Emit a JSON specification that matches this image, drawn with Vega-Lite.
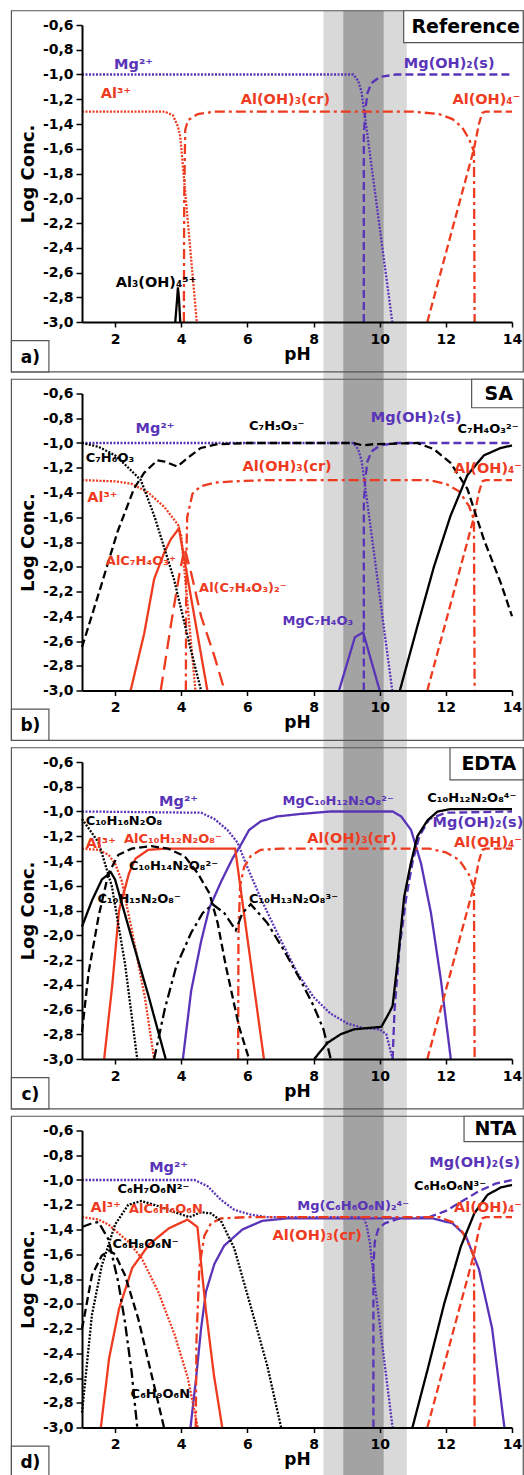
{
"$schema":"https://vega.github.io/schema/vega-lite/v6.json",
"background":"white",
"padding":{"left":10,"top":10,"right":0,"bottom":0},
"bounds":"flush",
"spacing":71.5,
"config":{
 "view":{"stroke":null},
 "axis":{"grid":false,"domainColor":"#000","domainWidth":2,"tickColor":"#000","tickWidth":1.5,"labelFont":"DejaVu Sans","labelFontWeight":"bold","labelFontSize":14,"labelColor":"#000","titleFont":"DejaVu Sans","titleFontWeight":"bold","titleColor":"#000","labelFlush":false},
 "axisX":{"titleFontSize":17},
 "axisY":{"titleFontSize":18},
 "text":{"font":"DejaVu Sans","fontWeight":"bold"}
},
"datasets":{
"bands":[{"b":"outer","x1":8.3,"x2":10.82,"y1":-0.485,"y2":-3.47},{"b":"inner","x1":8.9,"x2":10.12,"y1":-0.485,"y2":-3.47}],
"frame":[{"x1":-1.134,"x2":14.34,"y1":-0.485,"y2":-3.403}],
"tags":[
{"p":"a","t":"Reference","x1":10.725,"x2":14.34,"y1":-0.485,"y2":-0.743,"tx":12.6,"ty":-0.614},
{"p":"b","t":"SA","x1":12.78,"x2":14.34,"y1":-0.485,"y2":-0.715,"tx":13.6,"ty":-0.6},
{"p":"c","t":"EDTA","x1":12.125,"x2":14.34,"y1":-0.485,"y2":-0.745,"tx":13.3,"ty":-0.615},
{"p":"d","t":"NTA","x1":12.55,"x2":14.34,"y1":-0.485,"y2":-0.69,"tx":13.5,"ty":-0.588}],
"corners":[
{"p":"a","t":"a)","x1":-1.134,"x2":0.0,"y1":-3.151,"y2":-3.403,"tx":-0.56,"ty":-3.29},
{"p":"b","t":"b)","x1":-1.134,"x2":0.0,"y1":-3.151,"y2":-3.403,"tx":-0.56,"ty":-3.29},
{"p":"c","t":"c)","x1":-1.134,"x2":0.0,"y1":-3.151,"y2":-3.403,"tx":-0.56,"ty":-3.29},
{"p":"d","t":"d)","x1":-1.134,"x2":0.0,"y1":-3.151,"y2":-3.403,"tx":-0.56,"ty":-3.29}],
"labels":[
{"p":"a","s":"Mg2+","t":"Mg²⁺","x":1.97,"y":-0.958},
{"p":"a","s":"MgOH2","t":"Mg(OH)₂(s)","x":10.73,"y":-0.95},
{"p":"a","s":"Al3+","t":"Al³⁺","x":1.57,"y":-1.19},
{"p":"a","s":"AlOH3","t":"Al(OH)₃(cr)","x":5.8,"y":-1.24},
{"p":"a","s":"AlOH4","t":"Al(OH)₄⁻","x":12.2,"y":-1.24},
{"p":"a","s":"Al3OH4","t":"Al₃(OH)₄⁵⁺","x":2.02,"y":-2.72},
{"p":"b","s":"Mg2+","t":"Mg²⁺","x":2.62,"y":-0.92},
{"p":"b","s":"SA1","t":"C₇H₅O₃⁻","x":6.05,"y":-0.895},
{"p":"b","s":"MgOH2","t":"Mg(OH)₂(s)","x":9.73,"y":-0.83},
{"p":"b","s":"SA2","t":"C₇H₄O₃²⁻","x":12.35,"y":-0.92},
{"p":"b","s":"SA0","t":"C₇H₆O₃","x":1.11,"y":-1.15},
{"p":"b","s":"AlOH3","t":"Al(OH)₃(cr)","x":5.85,"y":-1.23},
{"p":"b","s":"AlOH4","t":"Al(OH)₄⁻","x":12.25,"y":-1.245},
{"p":"b","s":"Al3+","t":"Al³⁺","x":1.16,"y":-1.475},
{"p":"b","s":"AlSA","t":"AlC₇H₄O₃⁺","x":1.72,"y":-1.986},
{"p":"b","s":"AlSA2","t":"Al(C₇H₄O₃)₂⁻","x":4.54,"y":-2.2},
{"p":"b","s":"MgSA","t":"MgC₇H₄O₃","x":7.06,"y":-2.47},
{"p":"c","s":"Mg2+","t":"Mg²⁺","x":3.33,"y":-0.956},
{"p":"c","s":"MgE","t":"MgC₁₀H₁₂N₂O₈²⁻","x":7.06,"y":-0.947},
{"p":"c","s":"E4","t":"C₁₀H₁₂N₂O₈⁴⁻","x":11.44,"y":-0.921},
{"p":"c","s":"MgOH2","t":"Mg(OH)₂(s)","x":11.6,"y":-1.123},
{"p":"c","s":"E0","t":"C₁₀H₁₆N₂O₈","x":1.11,"y":-1.109},
{"p":"c","s":"Al3+","t":"Al³⁺","x":1.11,"y":-1.297},
{"p":"c","s":"AlE","t":"AlC₁₀H₁₂N₂O₈⁻","x":2.27,"y":-1.257},
{"p":"c","s":"AlOH3","t":"Al(OH)₃(cr)","x":7.81,"y":-1.257},
{"p":"c","s":"AlOH4","t":"Al(OH)₄⁻","x":12.25,"y":-1.284},
{"p":"c","s":"E2","t":"C₁₀H₁₄N₂O₈²⁻","x":2.42,"y":-1.47},
{"p":"c","s":"E1","t":"C₁₀H₁₅N₂O₈⁻","x":1.47,"y":-1.742},
{"p":"c","s":"E3","t":"C₁₀H₁₃N₂O₈³⁻","x":6.05,"y":-1.742},
{"p":"d","s":"Mg2+","t":"Mg²⁺","x":3.03,"y":-0.933},
{"p":"d","s":"MgOH2","t":"Mg(OH)₂(s)","x":11.5,"y":-0.893},
{"p":"d","s":"N2","t":"C₆H₇O₆N²⁻","x":2.07,"y":-1.107},
{"p":"d","s":"N3","t":"C₆H₆O₆N³⁻","x":11.04,"y":-1.081},
{"p":"d","s":"Al3+","t":"Al³⁺","x":1.26,"y":-1.256},
{"p":"d","s":"AlN","t":"AlC₆H₆O₆N","x":2.42,"y":-1.269},
{"p":"d","s":"MgN","t":"Mg(C₆H₆O₆N)₂⁴⁻","x":7.51,"y":-1.242},
{"p":"d","s":"AlOH4","t":"Al(OH)₄⁻","x":12.25,"y":-1.256},
{"p":"d","s":"AlOH3","t":"Al(OH)₃(cr)","x":6.76,"y":-1.486},
{"p":"d","s":"N1","t":"C₆H₈O₆N⁻","x":1.92,"y":-1.552},
{"p":"d","s":"N0","t":"C₆H₉O₆N","x":2.47,"y":-2.764}],
"lines":[
{"p":"a","s":"Mg2+","x":1,"y":-1},{"p":"a","s":"Mg2+","x":9.2,"y":-1},{"p":"a","s":"Mg2+","x":9.35,"y":-1.05},{"p":"a","s":"Mg2+","x":9.45,"y":-1.14},{"p":"a","s":"Mg2+","x":9.55,"y":-1.33},{"p":"a","s":"Mg2+","x":10.38,"y":-3},
{"p":"a","s":"MgOH2","x":9.52,"y":-3},{"p":"a","s":"MgOH2","x":9.52,"y":-1.5},{"p":"a","s":"MgOH2","x":9.56,"y":-1.3},{"p":"a","s":"MgOH2","x":9.63,"y":-1.15},{"p":"a","s":"MgOH2","x":9.75,"y":-1.07},{"p":"a","s":"MgOH2","x":10,"y":-1.02},{"p":"a","s":"MgOH2","x":10.5,"y":-1},{"p":"a","s":"MgOH2","x":14,"y":-1},
{"p":"a","s":"Al3+","x":1,"y":-1.3},{"p":"a","s":"Al3+","x":3.5,"y":-1.3},{"p":"a","s":"Al3+","x":3.75,"y":-1.33},{"p":"a","s":"Al3+","x":3.9,"y":-1.42},{"p":"a","s":"Al3+","x":3.97,"y":-1.5},{"p":"a","s":"Al3+","x":4.47,"y":-3},
{"p":"a","s":"AlOH3","x":4.08,"y":-3},{"p":"a","s":"AlOH3","x":4.09,"y":-2},{"p":"a","s":"AlOH3","x":4.12,"y":-1.45},{"p":"a","s":"AlOH3","x":4.2,"y":-1.37},{"p":"a","s":"AlOH3","x":4.5,"y":-1.32},{"p":"a","s":"AlOH3","x":5,"y":-1.3},{"p":"a","s":"AlOH3","x":11,"y":-1.3},{"p":"a","s":"AlOH3","x":11.8,"y":-1.32},{"p":"a","s":"AlOH3","x":12.2,"y":-1.36},{"p":"a","s":"AlOH3","x":12.5,"y":-1.43},{"p":"a","s":"AlOH3","x":12.7,"y":-1.52},{"p":"a","s":"AlOH3","x":12.85,"y":-1.62},{"p":"a","s":"AlOH3","x":12.87,"y":-3},
{"p":"a","s":"AlOH4","x":11.44,"y":-3},{"p":"a","s":"AlOH4","x":12.85,"y":-1.6},{"p":"a","s":"AlOH4","x":13,"y":-1.4},{"p":"a","s":"AlOH4","x":13.1,"y":-1.31},{"p":"a","s":"AlOH4","x":13.2,"y":-1.3},{"p":"a","s":"AlOH4","x":14,"y":-1.3},
{"p":"a","s":"Al3OH4","x":3.82,"y":-3},{"p":"a","s":"Al3OH4","x":3.88,"y":-2.8},{"p":"a","s":"Al3OH4","x":3.9,"y":-2.72},{"p":"a","s":"Al3OH4","x":3.93,"y":-2.8},{"p":"a","s":"Al3OH4","x":3.97,"y":-3},
{"p":"b","s":"Mg2+","x":1,"y":-1},{"p":"b","s":"Mg2+","x":9.2,"y":-1},{"p":"b","s":"Mg2+","x":9.35,"y":-1.05},{"p":"b","s":"Mg2+","x":9.45,"y":-1.14},{"p":"b","s":"Mg2+","x":9.55,"y":-1.33},{"p":"b","s":"Mg2+","x":10.38,"y":-3},
{"p":"b","s":"MgOH2","x":9.52,"y":-3},{"p":"b","s":"MgOH2","x":9.52,"y":-1.5},{"p":"b","s":"MgOH2","x":9.56,"y":-1.3},{"p":"b","s":"MgOH2","x":9.63,"y":-1.15},{"p":"b","s":"MgOH2","x":9.75,"y":-1.07},{"p":"b","s":"MgOH2","x":10,"y":-1.02},{"p":"b","s":"MgOH2","x":10.5,"y":-1},{"p":"b","s":"MgOH2","x":14,"y":-1},
{"p":"b","s":"MgSA","x":8.77,"y":-3},{"p":"b","s":"MgSA","x":9.25,"y":-2.57},{"p":"b","s":"MgSA","x":9.5,"y":-2.53},{"p":"b","s":"MgSA","x":10,"y":-3},
{"p":"b","s":"Al3+","x":1,"y":-1.3},{"p":"b","s":"Al3+","x":2,"y":-1.31},{"p":"b","s":"Al3+","x":2.5,"y":-1.33},{"p":"b","s":"Al3+","x":3,"y":-1.4},{"p":"b","s":"Al3+","x":3.5,"y":-1.52},{"p":"b","s":"Al3+","x":3.9,"y":-1.66},{"p":"b","s":"Al3+","x":4,"y":-1.75},{"p":"b","s":"Al3+","x":4.43,"y":-3},
{"p":"b","s":"AlOH3","x":4.14,"y":-3},{"p":"b","s":"AlOH3","x":4.15,"y":-2},{"p":"b","s":"AlOH3","x":4.18,"y":-1.6},{"p":"b","s":"AlOH3","x":4.34,"y":-1.41},{"p":"b","s":"AlOH3","x":4.59,"y":-1.35},{"p":"b","s":"AlOH3","x":5,"y":-1.32},{"p":"b","s":"AlOH3","x":5.6,"y":-1.31},{"p":"b","s":"AlOH3","x":6.5,"y":-1.3},{"p":"b","s":"AlOH3","x":11.5,"y":-1.3},{"p":"b","s":"AlOH3","x":12,"y":-1.33},{"p":"b","s":"AlOH3","x":12.4,"y":-1.39},{"p":"b","s":"AlOH3","x":12.7,"y":-1.51},{"p":"b","s":"AlOH3","x":12.85,"y":-1.62},{"p":"b","s":"AlOH3","x":12.87,"y":-3},
{"p":"b","s":"AlOH4","x":11.44,"y":-3},{"p":"b","s":"AlOH4","x":12.85,"y":-1.6},{"p":"b","s":"AlOH4","x":13,"y":-1.4},{"p":"b","s":"AlOH4","x":13.1,"y":-1.31},{"p":"b","s":"AlOH4","x":13.2,"y":-1.3},{"p":"b","s":"AlOH4","x":14,"y":-1.3},
{"p":"b","s":"AlSA","x":2.47,"y":-3},{"p":"b","s":"AlSA","x":2.88,"y":-2.54},{"p":"b","s":"AlSA","x":3.18,"y":-2.1},{"p":"b","s":"AlSA","x":3.48,"y":-1.89},{"p":"b","s":"AlSA","x":3.68,"y":-1.78},{"p":"b","s":"AlSA","x":3.93,"y":-1.69},{"p":"b","s":"AlSA","x":4.79,"y":-3},
{"p":"b","s":"AlSA2","x":3.38,"y":-3},{"p":"b","s":"AlSA2","x":3.7,"y":-2.45},{"p":"b","s":"AlSA2","x":3.95,"y":-2.05},{"p":"b","s":"AlSA2","x":4.1,"y":-1.85},{"p":"b","s":"AlSA2","x":4.3,"y":-2.05},{"p":"b","s":"AlSA2","x":4.6,"y":-2.4},{"p":"b","s":"AlSA2","x":5,"y":-2.72},{"p":"b","s":"AlSA2","x":5.31,"y":-3},
{"p":"b","s":"SA0","x":1,"y":-1},{"p":"b","s":"SA0","x":1.5,"y":-1.03},{"p":"b","s":"SA0","x":2,"y":-1.1},{"p":"b","s":"SA0","x":2.4,"y":-1.2},{"p":"b","s":"SA0","x":2.78,"y":-1.3},{"p":"b","s":"SA0","x":3.2,"y":-1.6},{"p":"b","s":"SA0","x":3.78,"y":-2.1},{"p":"b","s":"SA0","x":4.29,"y":-2.67},{"p":"b","s":"SA0","x":4.6,"y":-3},
{"p":"b","s":"SA1","x":1,"y":-2.65},{"p":"b","s":"SA1","x":1.57,"y":-2.16},{"p":"b","s":"SA1","x":2.07,"y":-1.72},{"p":"b","s":"SA1","x":2.57,"y":-1.37},{"p":"b","s":"SA1","x":2.88,"y":-1.24},{"p":"b","s":"SA1","x":3.28,"y":-1.14},{"p":"b","s":"SA1","x":3.5,"y":-1.15},{"p":"b","s":"SA1","x":3.88,"y":-1.19},{"p":"b","s":"SA1","x":4.2,"y":-1.12},{"p":"b","s":"SA1","x":4.59,"y":-1.04},{"p":"b","s":"SA1","x":5.09,"y":-1.01},{"p":"b","s":"SA1","x":6,"y":-1},{"p":"b","s":"SA1","x":9.2,"y":-1},{"p":"b","s":"SA1","x":9.5,"y":-1.02},{"p":"b","s":"SA1","x":9.8,"y":-1.01},{"p":"b","s":"SA1","x":11.14,"y":-1},{"p":"b","s":"SA1","x":11.64,"y":-1.05},{"p":"b","s":"SA1","x":12.14,"y":-1.16},{"p":"b","s":"SA1","x":12.65,"y":-1.37},{"p":"b","s":"SA1","x":13.15,"y":-1.78},{"p":"b","s":"SA1","x":13.66,"y":-2.13},{"p":"b","s":"SA1","x":14,"y":-2.4},
{"p":"b","s":"SA2","x":10.61,"y":-3},{"p":"b","s":"SA2","x":11.14,"y":-2.48},{"p":"b","s":"SA2","x":11.64,"y":-2},{"p":"b","s":"SA2","x":12.14,"y":-1.59},{"p":"b","s":"SA2","x":12.65,"y":-1.26},{"p":"b","s":"SA2","x":13.15,"y":-1.1},{"p":"b","s":"SA2","x":13.66,"y":-1.04},{"p":"b","s":"SA2","x":14,"y":-1.02},
{"p":"c","s":"Mg2+","x":1,"y":-1},{"p":"c","s":"Mg2+","x":4.6,"y":-1.01},{"p":"c","s":"Mg2+","x":5,"y":-1.06},{"p":"c","s":"Mg2+","x":5.4,"y":-1.15},{"p":"c","s":"Mg2+","x":5.7,"y":-1.25},{"p":"c","s":"Mg2+","x":6,"y":-1.45},{"p":"c","s":"Mg2+","x":6.4,"y":-1.7},{"p":"c","s":"Mg2+","x":6.9,"y":-1.98},{"p":"c","s":"Mg2+","x":7.5,"y":-2.3},{"p":"c","s":"Mg2+","x":8,"y":-2.5},{"p":"c","s":"Mg2+","x":8.5,"y":-2.63},{"p":"c","s":"Mg2+","x":9,"y":-2.71},{"p":"c","s":"Mg2+","x":9.5,"y":-2.75},{"p":"c","s":"Mg2+","x":10,"y":-2.76},{"p":"c","s":"Mg2+","x":10.2,"y":-2.8},{"p":"c","s":"Mg2+","x":10.39,"y":-3},
{"p":"c","s":"MgOH2","x":10.39,"y":-3},{"p":"c","s":"MgOH2","x":10.45,"y":-2.6},{"p":"c","s":"MgOH2","x":10.6,"y":-2.1},{"p":"c","s":"MgOH2","x":10.8,"y":-1.7},{"p":"c","s":"MgOH2","x":11,"y":-1.4},{"p":"c","s":"MgOH2","x":11.2,"y":-1.2},{"p":"c","s":"MgOH2","x":11.5,"y":-1.06},{"p":"c","s":"MgOH2","x":12,"y":-1.01},{"p":"c","s":"MgOH2","x":14,"y":-1},
{"p":"c","s":"MgE","x":4.05,"y":-3},{"p":"c","s":"MgE","x":4.3,"y":-2.45},{"p":"c","s":"MgE","x":4.6,"y":-2.05},{"p":"c","s":"MgE","x":4.85,"y":-1.78},{"p":"c","s":"MgE","x":5.2,"y":-1.57},{"p":"c","s":"MgE","x":5.55,"y":-1.38},{"p":"c","s":"MgE","x":5.8,"y":-1.27},{"p":"c","s":"MgE","x":6.05,"y":-1.15},{"p":"c","s":"MgE","x":6.4,"y":-1.08},{"p":"c","s":"MgE","x":6.9,"y":-1.04},{"p":"c","s":"MgE","x":7.6,"y":-1.02},{"p":"c","s":"MgE","x":8.5,"y":-1},{"p":"c","s":"MgE","x":10.4,"y":-1},{"p":"c","s":"MgE","x":10.65,"y":-1.04},{"p":"c","s":"MgE","x":10.95,"y":-1.15},{"p":"c","s":"MgE","x":11.25,"y":-1.42},{"p":"c","s":"MgE","x":11.55,"y":-1.82},{"p":"c","s":"MgE","x":11.85,"y":-2.36},{"p":"c","s":"MgE","x":12.15,"y":-3},
{"p":"c","s":"Al3+","x":1,"y":-1.3},{"p":"c","s":"Al3+","x":1.5,"y":-1.31},{"p":"c","s":"Al3+","x":1.8,"y":-1.35},{"p":"c","s":"Al3+","x":2,"y":-1.42},{"p":"c","s":"Al3+","x":2.2,"y":-1.56},{"p":"c","s":"Al3+","x":2.5,"y":-1.95},{"p":"c","s":"Al3+","x":2.9,"y":-2.5},{"p":"c","s":"Al3+","x":3.18,"y":-3},
{"p":"c","s":"AlE","x":1.67,"y":-3},{"p":"c","s":"AlE","x":1.92,"y":-2.39},{"p":"c","s":"AlE","x":2.12,"y":-1.8},{"p":"c","s":"AlE","x":2.42,"y":-1.5},{"p":"c","s":"AlE","x":2.62,"y":-1.38},{"p":"c","s":"AlE","x":3,"y":-1.31},{"p":"c","s":"AlE","x":3.5,"y":-1.3},{"p":"c","s":"AlE","x":5.63,"y":-1.3},{"p":"c","s":"AlE","x":6.5,"y":-3},
{"p":"c","s":"AlOH3","x":5.72,"y":-3},{"p":"c","s":"AlOH3","x":5.73,"y":-2},{"p":"c","s":"AlOH3","x":5.78,"y":-1.6},{"p":"c","s":"AlOH3","x":5.9,"y":-1.45},{"p":"c","s":"AlOH3","x":6.1,"y":-1.36},{"p":"c","s":"AlOH3","x":6.4,"y":-1.31},{"p":"c","s":"AlOH3","x":7,"y":-1.3},{"p":"c","s":"AlOH3","x":11.5,"y":-1.3},{"p":"c","s":"AlOH3","x":12,"y":-1.33},{"p":"c","s":"AlOH3","x":12.4,"y":-1.39},{"p":"c","s":"AlOH3","x":12.7,"y":-1.51},{"p":"c","s":"AlOH3","x":12.85,"y":-1.62},{"p":"c","s":"AlOH3","x":12.87,"y":-3},
{"p":"c","s":"AlOH4","x":11.44,"y":-3},{"p":"c","s":"AlOH4","x":12.85,"y":-1.6},{"p":"c","s":"AlOH4","x":13,"y":-1.4},{"p":"c","s":"AlOH4","x":13.1,"y":-1.31},{"p":"c","s":"AlOH4","x":13.2,"y":-1.3},{"p":"c","s":"AlOH4","x":14,"y":-1.3},
{"p":"c","s":"E0","x":1,"y":-1.06},{"p":"c","s":"E0","x":1.5,"y":-1.25},{"p":"c","s":"E0","x":1.9,"y":-1.6},{"p":"c","s":"E0","x":2.3,"y":-2.23},{"p":"c","s":"E0","x":2.67,"y":-3},
{"p":"c","s":"E1","x":1,"y":-1.93},{"p":"c","s":"E1","x":1.3,"y":-1.72},{"p":"c","s":"E1","x":1.6,"y":-1.55},{"p":"c","s":"E1","x":1.87,"y":-1.49},{"p":"c","s":"E1","x":2,"y":-1.55},{"p":"c","s":"E1","x":2.5,"y":-2.02},{"p":"c","s":"E1","x":3,"y":-2.48},{"p":"c","s":"E1","x":3.53,"y":-3},
{"p":"c","s":"E2","x":1,"y":-2.78},{"p":"c","s":"E2","x":1.2,"y":-2.3},{"p":"c","s":"E2","x":1.5,"y":-1.85},{"p":"c","s":"E2","x":1.8,"y":-1.5},{"p":"c","s":"E2","x":2.1,"y":-1.35},{"p":"c","s":"E2","x":2.5,"y":-1.3},{"p":"c","s":"E2","x":3.1,"y":-1.28},{"p":"c","s":"E2","x":3.6,"y":-1.3},{"p":"c","s":"E2","x":4.1,"y":-1.36},{"p":"c","s":"E2","x":4.5,"y":-1.5},{"p":"c","s":"E2","x":4.85,"y":-1.66},{"p":"c","s":"E2","x":5.1,"y":-1.9},{"p":"c","s":"E2","x":5.35,"y":-2.25},{"p":"c","s":"E2","x":5.75,"y":-2.74},{"p":"c","s":"E2","x":6.05,"y":-3},
{"p":"c","s":"E3","x":3.18,"y":-3},{"p":"c","s":"E3","x":3.5,"y":-2.6},{"p":"c","s":"E3","x":3.85,"y":-2.25},{"p":"c","s":"E3","x":4.3,"y":-1.98},{"p":"c","s":"E3","x":4.65,"y":-1.82},{"p":"c","s":"E3","x":4.95,"y":-1.75},{"p":"c","s":"E3","x":5.3,"y":-1.82},{"p":"c","s":"E3","x":5.65,"y":-1.96},{"p":"c","s":"E3","x":5.85,"y":-1.82},{"p":"c","s":"E3","x":6.1,"y":-1.75},{"p":"c","s":"E3","x":6.6,"y":-1.9},{"p":"c","s":"E3","x":7.1,"y":-2.12},{"p":"c","s":"E3","x":7.6,"y":-2.36},{"p":"c","s":"E3","x":8,"y":-2.57},{"p":"c","s":"E3","x":8.3,"y":-2.76},{"p":"c","s":"E3","x":8.52,"y":-3},
{"p":"c","s":"E4","x":8.02,"y":-3},{"p":"c","s":"E4","x":8.42,"y":-2.87},{"p":"c","s":"E4","x":8.82,"y":-2.8},{"p":"c","s":"E4","x":9.23,"y":-2.76},{"p":"c","s":"E4","x":9.63,"y":-2.75},{"p":"c","s":"E4","x":10.05,"y":-2.74},{"p":"c","s":"E4","x":10.3,"y":-2.62},{"p":"c","s":"E4","x":10.39,"y":-2.57},{"p":"c","s":"E4","x":10.54,"y":-2.22},{"p":"c","s":"E4","x":10.74,"y":-1.69},{"p":"c","s":"E4","x":10.94,"y":-1.42},{"p":"c","s":"E4","x":11.14,"y":-1.2},{"p":"c","s":"E4","x":11.45,"y":-1.07},{"p":"c","s":"E4","x":11.75,"y":-1},{"p":"c","s":"E4","x":12.15,"y":-0.98},{"p":"c","s":"E4","x":14,"y":-0.98},
{"p":"d","s":"Mg2+","x":1,"y":-1},{"p":"d","s":"Mg2+","x":4.4,"y":-1},{"p":"d","s":"Mg2+","x":4.8,"y":-1.05},{"p":"d","s":"Mg2+","x":5.2,"y":-1.16},{"p":"d","s":"Mg2+","x":5.6,"y":-1.24},{"p":"d","s":"Mg2+","x":6.1,"y":-1.28},{"p":"d","s":"Mg2+","x":6.6,"y":-1.3},{"p":"d","s":"Mg2+","x":9.5,"y":-1.3},{"p":"d","s":"Mg2+","x":9.6,"y":-1.36},{"p":"d","s":"Mg2+","x":9.7,"y":-1.5},{"p":"d","s":"Mg2+","x":9.76,"y":-1.65},{"p":"d","s":"Mg2+","x":10.39,"y":-3},
{"p":"d","s":"MgOH2","x":9.81,"y":-3},{"p":"d","s":"MgOH2","x":9.81,"y":-1.7},{"p":"d","s":"MgOH2","x":9.85,"y":-1.5},{"p":"d","s":"MgOH2","x":9.95,"y":-1.4},{"p":"d","s":"MgOH2","x":10.15,"y":-1.35},{"p":"d","s":"MgOH2","x":10.6,"y":-1.31},{"p":"d","s":"MgOH2","x":11.5,"y":-1.3},{"p":"d","s":"MgOH2","x":12,"y":-1.25},{"p":"d","s":"MgOH2","x":12.5,"y":-1.17},{"p":"d","s":"MgOH2","x":13,"y":-1.09},{"p":"d","s":"MgOH2","x":13.5,"y":-1.03},{"p":"d","s":"MgOH2","x":14,"y":-1},
{"p":"d","s":"MgN","x":4.28,"y":-3},{"p":"d","s":"MgN","x":4.45,"y":-2.6},{"p":"d","s":"MgN","x":4.6,"y":-2.2},{"p":"d","s":"MgN","x":4.75,"y":-1.9},{"p":"d","s":"MgN","x":5,"y":-1.68},{"p":"d","s":"MgN","x":5.3,"y":-1.53},{"p":"d","s":"MgN","x":5.85,"y":-1.4},{"p":"d","s":"MgN","x":6.45,"y":-1.33},{"p":"d","s":"MgN","x":7.2,"y":-1.31},{"p":"d","s":"MgN","x":11.6,"y":-1.31},{"p":"d","s":"MgN","x":12.2,"y":-1.35},{"p":"d","s":"MgN","x":12.6,"y":-1.45},{"p":"d","s":"MgN","x":13,"y":-1.72},{"p":"d","s":"MgN","x":13.4,"y":-2.2},{"p":"d","s":"MgN","x":13.77,"y":-3},
{"p":"d","s":"Al3+","x":1,"y":-1.3},{"p":"d","s":"Al3+","x":1.5,"y":-1.32},{"p":"d","s":"Al3+","x":1.8,"y":-1.36},{"p":"d","s":"Al3+","x":2.4,"y":-1.5},{"p":"d","s":"Al3+","x":2.8,"y":-1.63},{"p":"d","s":"Al3+","x":3.3,"y":-1.9},{"p":"d","s":"Al3+","x":3.8,"y":-2.25},{"p":"d","s":"Al3+","x":4.2,"y":-2.6},{"p":"d","s":"Al3+","x":4.5,"y":-3},
{"p":"d","s":"AlN","x":1.57,"y":-3},{"p":"d","s":"AlN","x":1.82,"y":-2.44},{"p":"d","s":"AlN","x":2.12,"y":-2.04},{"p":"d","s":"AlN","x":2.52,"y":-1.71},{"p":"d","s":"AlN","x":3.03,"y":-1.52},{"p":"d","s":"AlN","x":3.63,"y":-1.39},{"p":"d","s":"AlN","x":4.19,"y":-1.32},{"p":"d","s":"AlN","x":4.49,"y":-1.38},{"p":"d","s":"AlN","x":4.74,"y":-2.04},{"p":"d","s":"AlN","x":4.99,"y":-2.58},{"p":"d","s":"AlN","x":5.24,"y":-3},
{"p":"d","s":"AlOH3","x":4.44,"y":-3},{"p":"d","s":"AlOH3","x":4.46,"y":-2.3},{"p":"d","s":"AlOH3","x":4.55,"y":-1.7},{"p":"d","s":"AlOH3","x":4.7,"y":-1.45},{"p":"d","s":"AlOH3","x":4.9,"y":-1.35},{"p":"d","s":"AlOH3","x":5.2,"y":-1.31},{"p":"d","s":"AlOH3","x":6,"y":-1.3},{"p":"d","s":"AlOH3","x":11.8,"y":-1.3},{"p":"d","s":"AlOH3","x":12.2,"y":-1.34},{"p":"d","s":"AlOH3","x":12.5,"y":-1.42},{"p":"d","s":"AlOH3","x":12.7,"y":-1.52},{"p":"d","s":"AlOH3","x":12.85,"y":-1.62},{"p":"d","s":"AlOH3","x":12.87,"y":-3},
{"p":"d","s":"AlOH4","x":11.44,"y":-3},{"p":"d","s":"AlOH4","x":12.85,"y":-1.6},{"p":"d","s":"AlOH4","x":13,"y":-1.4},{"p":"d","s":"AlOH4","x":13.1,"y":-1.31},{"p":"d","s":"AlOH4","x":13.2,"y":-1.3},{"p":"d","s":"AlOH4","x":14,"y":-1.3},
{"p":"d","s":"N0","x":1,"y":-1.38},{"p":"d","s":"N0","x":1.3,"y":-1.35},{"p":"d","s":"N0","x":1.5,"y":-1.34},{"p":"d","s":"N0","x":1.8,"y":-1.48},{"p":"d","s":"N0","x":2.1,"y":-1.83},{"p":"d","s":"N0","x":2.3,"y":-2.15},{"p":"d","s":"N0","x":2.5,"y":-2.55},{"p":"d","s":"N0","x":2.67,"y":-3},
{"p":"d","s":"N1","x":1,"y":-2.2},{"p":"d","s":"N1","x":1.06,"y":-2.12},{"p":"d","s":"N1","x":1.3,"y":-1.77},{"p":"d","s":"N1","x":1.6,"y":-1.61},{"p":"d","s":"N1","x":1.82,"y":-1.57},{"p":"d","s":"N1","x":2,"y":-1.6},{"p":"d","s":"N1","x":2.3,"y":-1.77},{"p":"d","s":"N1","x":2.7,"y":-2.12},{"p":"d","s":"N1","x":3.1,"y":-2.57},{"p":"d","s":"N1","x":3.48,"y":-3},
{"p":"d","s":"N2","x":1,"y":-2.88},{"p":"d","s":"N2","x":1.3,"y":-2.09},{"p":"d","s":"N2","x":1.6,"y":-1.69},{"p":"d","s":"N2","x":2,"y":-1.36},{"p":"d","s":"N2","x":2.4,"y":-1.2},{"p":"d","s":"N2","x":2.8,"y":-1.17},{"p":"d","s":"N2","x":3.3,"y":-1.21},{"p":"d","s":"N2","x":3.8,"y":-1.26},{"p":"d","s":"N2","x":4.25,"y":-1.3},{"p":"d","s":"N2","x":4.6,"y":-1.26},{"p":"d","s":"N2","x":4.9,"y":-1.27},{"p":"d","s":"N2","x":5.2,"y":-1.33},{"p":"d","s":"N2","x":5.6,"y":-1.55},{"p":"d","s":"N2","x":6.1,"y":-2.02},{"p":"d","s":"N2","x":6.6,"y":-2.5},{"p":"d","s":"N2","x":7.02,"y":-3},
{"p":"d","s":"N3","x":10.99,"y":-3},{"p":"d","s":"N3","x":11.45,"y":-2.53},{"p":"d","s":"N3","x":11.95,"y":-2},{"p":"d","s":"N3","x":12.45,"y":-1.54},{"p":"d","s":"N3","x":12.86,"y":-1.27},{"p":"d","s":"N3","x":13.26,"y":-1.12},{"p":"d","s":"N3","x":13.66,"y":-1.06},{"p":"d","s":"N3","x":14,"y":-1.04}
]
},
"vconcat":[
{"width":430,"height":297,"layer":[
 {"data":{"name":"bands"},"transform":[{"filter":"datum.b==='outer'"}],"mark":{"type":"rect","color":"#d9d9d9"},"encoding":{"x":{"field":"x1","type":"quantitative","scale":{"domain":[1,14],"nice":false,"zero":false},"axis":{"title":"pH","values":[2,4,6,8,10,12,14],"format":"d","tickSize":5,"labelPadding":5,"titlePadding":0,"zindex":1}},"x2":{"field":"x2"},"y":{"field":"y1","type":"quantitative","scale":{"domain":[-3,-0.6],"nice":false,"zero":false},"axis":{"title":"Log Conc.","values":[-0.6,-0.8,-1,-1.2,-1.4,-1.6,-1.8,-2,-2.2,-2.4,-2.6,-2.8,-3],"labelExpr":"replace(replace(format(datum.value,'.1f'),'.',','),'\u2212','-')","tickSize":6,"labelPadding":3,"titlePadding":5,"zindex":1}},"y2":{"field":"y2"}}},
 {"data":{"name":"bands"},"transform":[{"filter":"datum.b==='inner'"}],"mark":{"type":"rect","color":"#a3a3a3"},"encoding":{"x":{"field":"x1","type":"quantitative","scale":{"domain":[1,14],"nice":false,"zero":false},"axis":{"title":"pH","values":[2,4,6,8,10,12,14],"format":"d","tickSize":5,"labelPadding":5,"titlePadding":0,"zindex":1}},"x2":{"field":"x2"},"y":{"field":"y1","type":"quantitative","scale":{"domain":[-3,-0.6],"nice":false,"zero":false},"axis":{"title":"Log Conc.","values":[-0.6,-0.8,-1,-1.2,-1.4,-1.6,-1.8,-2,-2.2,-2.4,-2.6,-2.8,-3],"labelExpr":"replace(replace(format(datum.value,'.1f'),'.',','),'\u2212','-')","tickSize":6,"labelPadding":3,"titlePadding":5,"zindex":1}},"y2":{"field":"y2"}}},
 {"data":{"name":"frame"},"mark":{"type":"rect","filled":false,"stroke":"#555555","strokeWidth":1.2},"encoding":{"x":{"field":"x1","type":"quantitative","scale":{"domain":[1,14],"nice":false,"zero":false},"axis":{"title":"pH","values":[2,4,6,8,10,12,14],"format":"d","tickSize":5,"labelPadding":5,"titlePadding":0,"zindex":1}},"x2":{"field":"x2"},"y":{"field":"y1","type":"quantitative","scale":{"domain":[-3,-0.6],"nice":false,"zero":false},"axis":{"title":"Log Conc.","values":[-0.6,-0.8,-1,-1.2,-1.4,-1.6,-1.8,-2,-2.2,-2.4,-2.6,-2.8,-3],"labelExpr":"replace(replace(format(datum.value,'.1f'),'.',','),'\u2212','-')","tickSize":6,"labelPadding":3,"titlePadding":5,"zindex":1}},"y2":{"field":"y2"}}},
 {"data":{"name":"lines"},"transform":[{"filter":"datum.p==='a'"}],"mark":{"type":"line","strokeWidth":2.3},"encoding":{"x":{"field":"x","type":"quantitative","scale":{"domain":[1,14],"nice":false,"zero":false},"axis":{"title":"pH","values":[2,4,6,8,10,12,14],"format":"d","tickSize":5,"labelPadding":5,"titlePadding":0,"zindex":1}},"y":{"field":"y","type":"quantitative","scale":{"domain":[-3,-0.6],"nice":false,"zero":false},"axis":{"title":"Log Conc.","values":[-0.6,-0.8,-1,-1.2,-1.4,-1.6,-1.8,-2,-2.2,-2.4,-2.6,-2.8,-3],"labelExpr":"replace(replace(format(datum.value,'.1f'),'.',','),'\u2212','-')","tickSize":6,"labelPadding":3,"titlePadding":5,"zindex":1}},
  "color":{"field":"s","type":"nominal","legend":null,"scale":{"domain":["Mg2+","MgOH2","MgSA","MgE","MgN","Al3+","AlOH3","AlOH4","AlSA","AlSA2","AlE","AlN","Al3OH4","SA0","SA1","SA2","E0","E1","E2","E3","E4","N0","N1","N2","N3"],"range":["#5a34b8","#5a34b8","#5a34b8","#5a34b8","#5a34b8","#ee3b1f","#ee3b1f","#ee3b1f","#ee3b1f","#ee3b1f","#ee3b1f","#ee3b1f","#000000","#000000","#000000","#000000","#000000","#000000","#000000","#000000","#000000","#000000","#000000","#000000","#000000"]}},
  "strokeDash":{"field":"s","type":"nominal","legend":null,"scale":{"domain":["Mg2+","MgOH2","MgSA","MgE","MgN","Al3+","AlOH3","AlOH4","AlSA","AlSA2","AlE","AlN","Al3OH4","SA0","SA1","SA2","E0","E1","E2","E3","E4","N0","N1","N2","N3"],"range":[[2,1.5],[8,4],[1,0],[1,0],[1,0],[2,1.5],[10,4,3,4],[8,4],[1,0],[14,7],[1,0],[1,0],[1,0],[2,1.5],[8,4],[1,0],[2,1.5],[1,0],[8,4],[10,4,3,4],[1,0],[10,4,3,4],[8,4],[2,1.5],[1,0]]}},
  "order":{"value":null}}},
 {"data":{"name":"tags"},"transform":[{"filter":"datum.p==='a'"}],"mark":{"type":"rect","fill":"white","stroke":"#555555","strokeWidth":1.2},"encoding":{"x":{"field":"x1","type":"quantitative","scale":{"domain":[1,14],"nice":false,"zero":false},"axis":{"title":"pH","values":[2,4,6,8,10,12,14],"format":"d","tickSize":5,"labelPadding":5,"titlePadding":0,"zindex":1}},"x2":{"field":"x2"},"y":{"field":"y1","type":"quantitative","scale":{"domain":[-3,-0.6],"nice":false,"zero":false},"axis":{"title":"Log Conc.","values":[-0.6,-0.8,-1,-1.2,-1.4,-1.6,-1.8,-2,-2.2,-2.4,-2.6,-2.8,-3],"labelExpr":"replace(replace(format(datum.value,'.1f'),'.',','),'\u2212','-')","tickSize":6,"labelPadding":3,"titlePadding":5,"zindex":1}},"y2":{"field":"y2"}}},
 {"data":{"name":"tags"},"transform":[{"filter":"datum.p==='a'"}],"mark":{"type":"text","fontSize":19,"align":"center","baseline":"middle","color":"#000"},"encoding":{"x":{"field":"tx","type":"quantitative","scale":{"domain":[1,14],"nice":false,"zero":false},"axis":{"title":"pH","values":[2,4,6,8,10,12,14],"format":"d","tickSize":5,"labelPadding":5,"titlePadding":0,"zindex":1}},"y":{"field":"ty","type":"quantitative","scale":{"domain":[-3,-0.6],"nice":false,"zero":false},"axis":{"title":"Log Conc.","values":[-0.6,-0.8,-1,-1.2,-1.4,-1.6,-1.8,-2,-2.2,-2.4,-2.6,-2.8,-3],"labelExpr":"replace(replace(format(datum.value,'.1f'),'.',','),'\u2212','-')","tickSize":6,"labelPadding":3,"titlePadding":5,"zindex":1}},"text":{"field":"t"}}},
 {"data":{"name":"corners"},"transform":[{"filter":"datum.p==='a'"}],"mark":{"type":"rect","fill":"white","stroke":"#555555","strokeWidth":1.2},"encoding":{"x":{"field":"x1","type":"quantitative","scale":{"domain":[1,14],"nice":false,"zero":false},"axis":{"title":"pH","values":[2,4,6,8,10,12,14],"format":"d","tickSize":5,"labelPadding":5,"titlePadding":0,"zindex":1}},"x2":{"field":"x2"},"y":{"field":"y1","type":"quantitative","scale":{"domain":[-3,-0.6],"nice":false,"zero":false},"axis":{"title":"Log Conc.","values":[-0.6,-0.8,-1,-1.2,-1.4,-1.6,-1.8,-2,-2.2,-2.4,-2.6,-2.8,-3],"labelExpr":"replace(replace(format(datum.value,'.1f'),'.',','),'\u2212','-')","tickSize":6,"labelPadding":3,"titlePadding":5,"zindex":1}},"y2":{"field":"y2"}}},
 {"data":{"name":"corners"},"transform":[{"filter":"datum.p==='a'"}],"mark":{"type":"text","fontSize":17,"align":"center","baseline":"middle","color":"#000"},"encoding":{"x":{"field":"tx","type":"quantitative","scale":{"domain":[1,14],"nice":false,"zero":false},"axis":{"title":"pH","values":[2,4,6,8,10,12,14],"format":"d","tickSize":5,"labelPadding":5,"titlePadding":0,"zindex":1}},"y":{"field":"ty","type":"quantitative","scale":{"domain":[-3,-0.6],"nice":false,"zero":false},"axis":{"title":"Log Conc.","values":[-0.6,-0.8,-1,-1.2,-1.4,-1.6,-1.8,-2,-2.2,-2.4,-2.6,-2.8,-3],"labelExpr":"replace(replace(format(datum.value,'.1f'),'.',','),'\u2212','-')","tickSize":6,"labelPadding":3,"titlePadding":5,"zindex":1}},"text":{"field":"t"}}},
 {"data":{"name":"labels"},"transform":[{"filter":"datum.p==='a' && indexof(datum.t,'C')<0"}],"mark":{"type":"text","fontSize":14.5,"align":"left","baseline":"alphabetic"},"encoding":{"x":{"field":"x","type":"quantitative","scale":{"domain":[1,14],"nice":false,"zero":false},"axis":{"title":"pH","values":[2,4,6,8,10,12,14],"format":"d","tickSize":5,"labelPadding":5,"titlePadding":0,"zindex":1}},"y":{"field":"y","type":"quantitative","scale":{"domain":[-3,-0.6],"nice":false,"zero":false},"axis":{"title":"Log Conc.","values":[-0.6,-0.8,-1,-1.2,-1.4,-1.6,-1.8,-2,-2.2,-2.4,-2.6,-2.8,-3],"labelExpr":"replace(replace(format(datum.value,'.1f'),'.',','),'\u2212','-')","tickSize":6,"labelPadding":3,"titlePadding":5,"zindex":1}},"text":{"field":"t"},
  "color":{"field":"s","type":"nominal","legend":null,"scale":{"domain":["Mg2+","MgOH2","MgSA","MgE","MgN","Al3+","AlOH3","AlOH4","AlSA","AlSA2","AlE","AlN","Al3OH4","SA0","SA1","SA2","E0","E1","E2","E3","E4","N0","N1","N2","N3"],"range":["#5a34b8","#5a34b8","#5a34b8","#5a34b8","#5a34b8","#ee3b1f","#ee3b1f","#ee3b1f","#ee3b1f","#ee3b1f","#ee3b1f","#ee3b1f","#000000","#000000","#000000","#000000","#000000","#000000","#000000","#000000","#000000","#000000","#000000","#000000","#000000"]}}}},
 {"data":{"name":"labels"},"transform":[{"filter":"datum.p==='a' && indexof(datum.t,'C')>=0"}],"mark":{"type":"text","fontSize":13,"align":"left","baseline":"alphabetic"},"encoding":{"x":{"field":"x","type":"quantitative","scale":{"domain":[1,14],"nice":false,"zero":false},"axis":{"title":"pH","values":[2,4,6,8,10,12,14],"format":"d","tickSize":5,"labelPadding":5,"titlePadding":0,"zindex":1}},"y":{"field":"y","type":"quantitative","scale":{"domain":[-3,-0.6],"nice":false,"zero":false},"axis":{"title":"Log Conc.","values":[-0.6,-0.8,-1,-1.2,-1.4,-1.6,-1.8,-2,-2.2,-2.4,-2.6,-2.8,-3],"labelExpr":"replace(replace(format(datum.value,'.1f'),'.',','),'\u2212','-')","tickSize":6,"labelPadding":3,"titlePadding":5,"zindex":1}},"text":{"field":"t"},
  "color":{"field":"s","type":"nominal","legend":null,"scale":{"domain":["Mg2+","MgOH2","MgSA","MgE","MgN","Al3+","AlOH3","AlOH4","AlSA","AlSA2","AlE","AlN","Al3OH4","SA0","SA1","SA2","E0","E1","E2","E3","E4","N0","N1","N2","N3"],"range":["#5a34b8","#5a34b8","#5a34b8","#5a34b8","#5a34b8","#ee3b1f","#ee3b1f","#ee3b1f","#ee3b1f","#ee3b1f","#ee3b1f","#ee3b1f","#000000","#000000","#000000","#000000","#000000","#000000","#000000","#000000","#000000","#000000","#000000","#000000","#000000"]}}}}
]},
{"width":430,"height":297,"layer":[
 {"data":{"name":"bands"},"transform":[{"filter":"datum.b==='outer'"}],"mark":{"type":"rect","color":"#d9d9d9"},"encoding":{"x":{"field":"x1","type":"quantitative","scale":{"domain":[1,14],"nice":false,"zero":false},"axis":{"title":"pH","values":[2,4,6,8,10,12,14],"format":"d","tickSize":5,"labelPadding":5,"titlePadding":0,"zindex":1}},"x2":{"field":"x2"},"y":{"field":"y1","type":"quantitative","scale":{"domain":[-3,-0.6],"nice":false,"zero":false},"axis":{"title":"Log Conc.","values":[-0.6,-0.8,-1,-1.2,-1.4,-1.6,-1.8,-2,-2.2,-2.4,-2.6,-2.8,-3],"labelExpr":"replace(replace(format(datum.value,'.1f'),'.',','),'\u2212','-')","tickSize":6,"labelPadding":3,"titlePadding":5,"zindex":1}},"y2":{"field":"y2"}}},
 {"data":{"name":"bands"},"transform":[{"filter":"datum.b==='inner'"}],"mark":{"type":"rect","color":"#a3a3a3"},"encoding":{"x":{"field":"x1","type":"quantitative","scale":{"domain":[1,14],"nice":false,"zero":false},"axis":{"title":"pH","values":[2,4,6,8,10,12,14],"format":"d","tickSize":5,"labelPadding":5,"titlePadding":0,"zindex":1}},"x2":{"field":"x2"},"y":{"field":"y1","type":"quantitative","scale":{"domain":[-3,-0.6],"nice":false,"zero":false},"axis":{"title":"Log Conc.","values":[-0.6,-0.8,-1,-1.2,-1.4,-1.6,-1.8,-2,-2.2,-2.4,-2.6,-2.8,-3],"labelExpr":"replace(replace(format(datum.value,'.1f'),'.',','),'\u2212','-')","tickSize":6,"labelPadding":3,"titlePadding":5,"zindex":1}},"y2":{"field":"y2"}}},
 {"data":{"name":"frame"},"mark":{"type":"rect","filled":false,"stroke":"#555555","strokeWidth":1.2},"encoding":{"x":{"field":"x1","type":"quantitative","scale":{"domain":[1,14],"nice":false,"zero":false},"axis":{"title":"pH","values":[2,4,6,8,10,12,14],"format":"d","tickSize":5,"labelPadding":5,"titlePadding":0,"zindex":1}},"x2":{"field":"x2"},"y":{"field":"y1","type":"quantitative","scale":{"domain":[-3,-0.6],"nice":false,"zero":false},"axis":{"title":"Log Conc.","values":[-0.6,-0.8,-1,-1.2,-1.4,-1.6,-1.8,-2,-2.2,-2.4,-2.6,-2.8,-3],"labelExpr":"replace(replace(format(datum.value,'.1f'),'.',','),'\u2212','-')","tickSize":6,"labelPadding":3,"titlePadding":5,"zindex":1}},"y2":{"field":"y2"}}},
 {"data":{"name":"lines"},"transform":[{"filter":"datum.p==='b'"}],"mark":{"type":"line","strokeWidth":2.3},"encoding":{"x":{"field":"x","type":"quantitative","scale":{"domain":[1,14],"nice":false,"zero":false},"axis":{"title":"pH","values":[2,4,6,8,10,12,14],"format":"d","tickSize":5,"labelPadding":5,"titlePadding":0,"zindex":1}},"y":{"field":"y","type":"quantitative","scale":{"domain":[-3,-0.6],"nice":false,"zero":false},"axis":{"title":"Log Conc.","values":[-0.6,-0.8,-1,-1.2,-1.4,-1.6,-1.8,-2,-2.2,-2.4,-2.6,-2.8,-3],"labelExpr":"replace(replace(format(datum.value,'.1f'),'.',','),'\u2212','-')","tickSize":6,"labelPadding":3,"titlePadding":5,"zindex":1}},
  "color":{"field":"s","type":"nominal","legend":null,"scale":{"domain":["Mg2+","MgOH2","MgSA","MgE","MgN","Al3+","AlOH3","AlOH4","AlSA","AlSA2","AlE","AlN","Al3OH4","SA0","SA1","SA2","E0","E1","E2","E3","E4","N0","N1","N2","N3"],"range":["#5a34b8","#5a34b8","#5a34b8","#5a34b8","#5a34b8","#ee3b1f","#ee3b1f","#ee3b1f","#ee3b1f","#ee3b1f","#ee3b1f","#ee3b1f","#000000","#000000","#000000","#000000","#000000","#000000","#000000","#000000","#000000","#000000","#000000","#000000","#000000"]}},
  "strokeDash":{"field":"s","type":"nominal","legend":null,"scale":{"domain":["Mg2+","MgOH2","MgSA","MgE","MgN","Al3+","AlOH3","AlOH4","AlSA","AlSA2","AlE","AlN","Al3OH4","SA0","SA1","SA2","E0","E1","E2","E3","E4","N0","N1","N2","N3"],"range":[[2,1.5],[8,4],[1,0],[1,0],[1,0],[2,1.5],[10,4,3,4],[8,4],[1,0],[14,7],[1,0],[1,0],[1,0],[2,1.5],[8,4],[1,0],[2,1.5],[1,0],[8,4],[10,4,3,4],[1,0],[10,4,3,4],[8,4],[2,1.5],[1,0]]}},
  "order":{"value":null}}},
 {"data":{"name":"tags"},"transform":[{"filter":"datum.p==='b'"}],"mark":{"type":"rect","fill":"white","stroke":"#555555","strokeWidth":1.2},"encoding":{"x":{"field":"x1","type":"quantitative","scale":{"domain":[1,14],"nice":false,"zero":false},"axis":{"title":"pH","values":[2,4,6,8,10,12,14],"format":"d","tickSize":5,"labelPadding":5,"titlePadding":0,"zindex":1}},"x2":{"field":"x2"},"y":{"field":"y1","type":"quantitative","scale":{"domain":[-3,-0.6],"nice":false,"zero":false},"axis":{"title":"Log Conc.","values":[-0.6,-0.8,-1,-1.2,-1.4,-1.6,-1.8,-2,-2.2,-2.4,-2.6,-2.8,-3],"labelExpr":"replace(replace(format(datum.value,'.1f'),'.',','),'\u2212','-')","tickSize":6,"labelPadding":3,"titlePadding":5,"zindex":1}},"y2":{"field":"y2"}}},
 {"data":{"name":"tags"},"transform":[{"filter":"datum.p==='b'"}],"mark":{"type":"text","fontSize":19,"align":"center","baseline":"middle","color":"#000"},"encoding":{"x":{"field":"tx","type":"quantitative","scale":{"domain":[1,14],"nice":false,"zero":false},"axis":{"title":"pH","values":[2,4,6,8,10,12,14],"format":"d","tickSize":5,"labelPadding":5,"titlePadding":0,"zindex":1}},"y":{"field":"ty","type":"quantitative","scale":{"domain":[-3,-0.6],"nice":false,"zero":false},"axis":{"title":"Log Conc.","values":[-0.6,-0.8,-1,-1.2,-1.4,-1.6,-1.8,-2,-2.2,-2.4,-2.6,-2.8,-3],"labelExpr":"replace(replace(format(datum.value,'.1f'),'.',','),'\u2212','-')","tickSize":6,"labelPadding":3,"titlePadding":5,"zindex":1}},"text":{"field":"t"}}},
 {"data":{"name":"corners"},"transform":[{"filter":"datum.p==='b'"}],"mark":{"type":"rect","fill":"white","stroke":"#555555","strokeWidth":1.2},"encoding":{"x":{"field":"x1","type":"quantitative","scale":{"domain":[1,14],"nice":false,"zero":false},"axis":{"title":"pH","values":[2,4,6,8,10,12,14],"format":"d","tickSize":5,"labelPadding":5,"titlePadding":0,"zindex":1}},"x2":{"field":"x2"},"y":{"field":"y1","type":"quantitative","scale":{"domain":[-3,-0.6],"nice":false,"zero":false},"axis":{"title":"Log Conc.","values":[-0.6,-0.8,-1,-1.2,-1.4,-1.6,-1.8,-2,-2.2,-2.4,-2.6,-2.8,-3],"labelExpr":"replace(replace(format(datum.value,'.1f'),'.',','),'\u2212','-')","tickSize":6,"labelPadding":3,"titlePadding":5,"zindex":1}},"y2":{"field":"y2"}}},
 {"data":{"name":"corners"},"transform":[{"filter":"datum.p==='b'"}],"mark":{"type":"text","fontSize":17,"align":"center","baseline":"middle","color":"#000"},"encoding":{"x":{"field":"tx","type":"quantitative","scale":{"domain":[1,14],"nice":false,"zero":false},"axis":{"title":"pH","values":[2,4,6,8,10,12,14],"format":"d","tickSize":5,"labelPadding":5,"titlePadding":0,"zindex":1}},"y":{"field":"ty","type":"quantitative","scale":{"domain":[-3,-0.6],"nice":false,"zero":false},"axis":{"title":"Log Conc.","values":[-0.6,-0.8,-1,-1.2,-1.4,-1.6,-1.8,-2,-2.2,-2.4,-2.6,-2.8,-3],"labelExpr":"replace(replace(format(datum.value,'.1f'),'.',','),'\u2212','-')","tickSize":6,"labelPadding":3,"titlePadding":5,"zindex":1}},"text":{"field":"t"}}},
 {"data":{"name":"labels"},"transform":[{"filter":"datum.p==='b' && indexof(datum.t,'C')<0"}],"mark":{"type":"text","fontSize":14.5,"align":"left","baseline":"alphabetic"},"encoding":{"x":{"field":"x","type":"quantitative","scale":{"domain":[1,14],"nice":false,"zero":false},"axis":{"title":"pH","values":[2,4,6,8,10,12,14],"format":"d","tickSize":5,"labelPadding":5,"titlePadding":0,"zindex":1}},"y":{"field":"y","type":"quantitative","scale":{"domain":[-3,-0.6],"nice":false,"zero":false},"axis":{"title":"Log Conc.","values":[-0.6,-0.8,-1,-1.2,-1.4,-1.6,-1.8,-2,-2.2,-2.4,-2.6,-2.8,-3],"labelExpr":"replace(replace(format(datum.value,'.1f'),'.',','),'\u2212','-')","tickSize":6,"labelPadding":3,"titlePadding":5,"zindex":1}},"text":{"field":"t"},
  "color":{"field":"s","type":"nominal","legend":null,"scale":{"domain":["Mg2+","MgOH2","MgSA","MgE","MgN","Al3+","AlOH3","AlOH4","AlSA","AlSA2","AlE","AlN","Al3OH4","SA0","SA1","SA2","E0","E1","E2","E3","E4","N0","N1","N2","N3"],"range":["#5a34b8","#5a34b8","#5a34b8","#5a34b8","#5a34b8","#ee3b1f","#ee3b1f","#ee3b1f","#ee3b1f","#ee3b1f","#ee3b1f","#ee3b1f","#000000","#000000","#000000","#000000","#000000","#000000","#000000","#000000","#000000","#000000","#000000","#000000","#000000"]}}}},
 {"data":{"name":"labels"},"transform":[{"filter":"datum.p==='b' && indexof(datum.t,'C')>=0"}],"mark":{"type":"text","fontSize":13,"align":"left","baseline":"alphabetic"},"encoding":{"x":{"field":"x","type":"quantitative","scale":{"domain":[1,14],"nice":false,"zero":false},"axis":{"title":"pH","values":[2,4,6,8,10,12,14],"format":"d","tickSize":5,"labelPadding":5,"titlePadding":0,"zindex":1}},"y":{"field":"y","type":"quantitative","scale":{"domain":[-3,-0.6],"nice":false,"zero":false},"axis":{"title":"Log Conc.","values":[-0.6,-0.8,-1,-1.2,-1.4,-1.6,-1.8,-2,-2.2,-2.4,-2.6,-2.8,-3],"labelExpr":"replace(replace(format(datum.value,'.1f'),'.',','),'\u2212','-')","tickSize":6,"labelPadding":3,"titlePadding":5,"zindex":1}},"text":{"field":"t"},
  "color":{"field":"s","type":"nominal","legend":null,"scale":{"domain":["Mg2+","MgOH2","MgSA","MgE","MgN","Al3+","AlOH3","AlOH4","AlSA","AlSA2","AlE","AlN","Al3OH4","SA0","SA1","SA2","E0","E1","E2","E3","E4","N0","N1","N2","N3"],"range":["#5a34b8","#5a34b8","#5a34b8","#5a34b8","#5a34b8","#ee3b1f","#ee3b1f","#ee3b1f","#ee3b1f","#ee3b1f","#ee3b1f","#ee3b1f","#000000","#000000","#000000","#000000","#000000","#000000","#000000","#000000","#000000","#000000","#000000","#000000","#000000"]}}}}
]},
{"width":430,"height":297,"layer":[
 {"data":{"name":"bands"},"transform":[{"filter":"datum.b==='outer'"}],"mark":{"type":"rect","color":"#d9d9d9"},"encoding":{"x":{"field":"x1","type":"quantitative","scale":{"domain":[1,14],"nice":false,"zero":false},"axis":{"title":"pH","values":[2,4,6,8,10,12,14],"format":"d","tickSize":5,"labelPadding":5,"titlePadding":0,"zindex":1}},"x2":{"field":"x2"},"y":{"field":"y1","type":"quantitative","scale":{"domain":[-3,-0.6],"nice":false,"zero":false},"axis":{"title":"Log Conc.","values":[-0.6,-0.8,-1,-1.2,-1.4,-1.6,-1.8,-2,-2.2,-2.4,-2.6,-2.8,-3],"labelExpr":"replace(replace(format(datum.value,'.1f'),'.',','),'\u2212','-')","tickSize":6,"labelPadding":3,"titlePadding":5,"zindex":1}},"y2":{"field":"y2"}}},
 {"data":{"name":"bands"},"transform":[{"filter":"datum.b==='inner'"}],"mark":{"type":"rect","color":"#a3a3a3"},"encoding":{"x":{"field":"x1","type":"quantitative","scale":{"domain":[1,14],"nice":false,"zero":false},"axis":{"title":"pH","values":[2,4,6,8,10,12,14],"format":"d","tickSize":5,"labelPadding":5,"titlePadding":0,"zindex":1}},"x2":{"field":"x2"},"y":{"field":"y1","type":"quantitative","scale":{"domain":[-3,-0.6],"nice":false,"zero":false},"axis":{"title":"Log Conc.","values":[-0.6,-0.8,-1,-1.2,-1.4,-1.6,-1.8,-2,-2.2,-2.4,-2.6,-2.8,-3],"labelExpr":"replace(replace(format(datum.value,'.1f'),'.',','),'\u2212','-')","tickSize":6,"labelPadding":3,"titlePadding":5,"zindex":1}},"y2":{"field":"y2"}}},
 {"data":{"name":"frame"},"mark":{"type":"rect","filled":false,"stroke":"#555555","strokeWidth":1.2},"encoding":{"x":{"field":"x1","type":"quantitative","scale":{"domain":[1,14],"nice":false,"zero":false},"axis":{"title":"pH","values":[2,4,6,8,10,12,14],"format":"d","tickSize":5,"labelPadding":5,"titlePadding":0,"zindex":1}},"x2":{"field":"x2"},"y":{"field":"y1","type":"quantitative","scale":{"domain":[-3,-0.6],"nice":false,"zero":false},"axis":{"title":"Log Conc.","values":[-0.6,-0.8,-1,-1.2,-1.4,-1.6,-1.8,-2,-2.2,-2.4,-2.6,-2.8,-3],"labelExpr":"replace(replace(format(datum.value,'.1f'),'.',','),'\u2212','-')","tickSize":6,"labelPadding":3,"titlePadding":5,"zindex":1}},"y2":{"field":"y2"}}},
 {"data":{"name":"lines"},"transform":[{"filter":"datum.p==='c'"}],"mark":{"type":"line","strokeWidth":2.3},"encoding":{"x":{"field":"x","type":"quantitative","scale":{"domain":[1,14],"nice":false,"zero":false},"axis":{"title":"pH","values":[2,4,6,8,10,12,14],"format":"d","tickSize":5,"labelPadding":5,"titlePadding":0,"zindex":1}},"y":{"field":"y","type":"quantitative","scale":{"domain":[-3,-0.6],"nice":false,"zero":false},"axis":{"title":"Log Conc.","values":[-0.6,-0.8,-1,-1.2,-1.4,-1.6,-1.8,-2,-2.2,-2.4,-2.6,-2.8,-3],"labelExpr":"replace(replace(format(datum.value,'.1f'),'.',','),'\u2212','-')","tickSize":6,"labelPadding":3,"titlePadding":5,"zindex":1}},
  "color":{"field":"s","type":"nominal","legend":null,"scale":{"domain":["Mg2+","MgOH2","MgSA","MgE","MgN","Al3+","AlOH3","AlOH4","AlSA","AlSA2","AlE","AlN","Al3OH4","SA0","SA1","SA2","E0","E1","E2","E3","E4","N0","N1","N2","N3"],"range":["#5a34b8","#5a34b8","#5a34b8","#5a34b8","#5a34b8","#ee3b1f","#ee3b1f","#ee3b1f","#ee3b1f","#ee3b1f","#ee3b1f","#ee3b1f","#000000","#000000","#000000","#000000","#000000","#000000","#000000","#000000","#000000","#000000","#000000","#000000","#000000"]}},
  "strokeDash":{"field":"s","type":"nominal","legend":null,"scale":{"domain":["Mg2+","MgOH2","MgSA","MgE","MgN","Al3+","AlOH3","AlOH4","AlSA","AlSA2","AlE","AlN","Al3OH4","SA0","SA1","SA2","E0","E1","E2","E3","E4","N0","N1","N2","N3"],"range":[[2,1.5],[8,4],[1,0],[1,0],[1,0],[2,1.5],[10,4,3,4],[8,4],[1,0],[14,7],[1,0],[1,0],[1,0],[2,1.5],[8,4],[1,0],[2,1.5],[1,0],[8,4],[10,4,3,4],[1,0],[10,4,3,4],[8,4],[2,1.5],[1,0]]}},
  "order":{"value":null}}},
 {"data":{"name":"tags"},"transform":[{"filter":"datum.p==='c'"}],"mark":{"type":"rect","fill":"white","stroke":"#555555","strokeWidth":1.2},"encoding":{"x":{"field":"x1","type":"quantitative","scale":{"domain":[1,14],"nice":false,"zero":false},"axis":{"title":"pH","values":[2,4,6,8,10,12,14],"format":"d","tickSize":5,"labelPadding":5,"titlePadding":0,"zindex":1}},"x2":{"field":"x2"},"y":{"field":"y1","type":"quantitative","scale":{"domain":[-3,-0.6],"nice":false,"zero":false},"axis":{"title":"Log Conc.","values":[-0.6,-0.8,-1,-1.2,-1.4,-1.6,-1.8,-2,-2.2,-2.4,-2.6,-2.8,-3],"labelExpr":"replace(replace(format(datum.value,'.1f'),'.',','),'\u2212','-')","tickSize":6,"labelPadding":3,"titlePadding":5,"zindex":1}},"y2":{"field":"y2"}}},
 {"data":{"name":"tags"},"transform":[{"filter":"datum.p==='c'"}],"mark":{"type":"text","fontSize":19,"align":"center","baseline":"middle","color":"#000"},"encoding":{"x":{"field":"tx","type":"quantitative","scale":{"domain":[1,14],"nice":false,"zero":false},"axis":{"title":"pH","values":[2,4,6,8,10,12,14],"format":"d","tickSize":5,"labelPadding":5,"titlePadding":0,"zindex":1}},"y":{"field":"ty","type":"quantitative","scale":{"domain":[-3,-0.6],"nice":false,"zero":false},"axis":{"title":"Log Conc.","values":[-0.6,-0.8,-1,-1.2,-1.4,-1.6,-1.8,-2,-2.2,-2.4,-2.6,-2.8,-3],"labelExpr":"replace(replace(format(datum.value,'.1f'),'.',','),'\u2212','-')","tickSize":6,"labelPadding":3,"titlePadding":5,"zindex":1}},"text":{"field":"t"}}},
 {"data":{"name":"corners"},"transform":[{"filter":"datum.p==='c'"}],"mark":{"type":"rect","fill":"white","stroke":"#555555","strokeWidth":1.2},"encoding":{"x":{"field":"x1","type":"quantitative","scale":{"domain":[1,14],"nice":false,"zero":false},"axis":{"title":"pH","values":[2,4,6,8,10,12,14],"format":"d","tickSize":5,"labelPadding":5,"titlePadding":0,"zindex":1}},"x2":{"field":"x2"},"y":{"field":"y1","type":"quantitative","scale":{"domain":[-3,-0.6],"nice":false,"zero":false},"axis":{"title":"Log Conc.","values":[-0.6,-0.8,-1,-1.2,-1.4,-1.6,-1.8,-2,-2.2,-2.4,-2.6,-2.8,-3],"labelExpr":"replace(replace(format(datum.value,'.1f'),'.',','),'\u2212','-')","tickSize":6,"labelPadding":3,"titlePadding":5,"zindex":1}},"y2":{"field":"y2"}}},
 {"data":{"name":"corners"},"transform":[{"filter":"datum.p==='c'"}],"mark":{"type":"text","fontSize":17,"align":"center","baseline":"middle","color":"#000"},"encoding":{"x":{"field":"tx","type":"quantitative","scale":{"domain":[1,14],"nice":false,"zero":false},"axis":{"title":"pH","values":[2,4,6,8,10,12,14],"format":"d","tickSize":5,"labelPadding":5,"titlePadding":0,"zindex":1}},"y":{"field":"ty","type":"quantitative","scale":{"domain":[-3,-0.6],"nice":false,"zero":false},"axis":{"title":"Log Conc.","values":[-0.6,-0.8,-1,-1.2,-1.4,-1.6,-1.8,-2,-2.2,-2.4,-2.6,-2.8,-3],"labelExpr":"replace(replace(format(datum.value,'.1f'),'.',','),'\u2212','-')","tickSize":6,"labelPadding":3,"titlePadding":5,"zindex":1}},"text":{"field":"t"}}},
 {"data":{"name":"labels"},"transform":[{"filter":"datum.p==='c' && indexof(datum.t,'C')<0"}],"mark":{"type":"text","fontSize":14.5,"align":"left","baseline":"alphabetic"},"encoding":{"x":{"field":"x","type":"quantitative","scale":{"domain":[1,14],"nice":false,"zero":false},"axis":{"title":"pH","values":[2,4,6,8,10,12,14],"format":"d","tickSize":5,"labelPadding":5,"titlePadding":0,"zindex":1}},"y":{"field":"y","type":"quantitative","scale":{"domain":[-3,-0.6],"nice":false,"zero":false},"axis":{"title":"Log Conc.","values":[-0.6,-0.8,-1,-1.2,-1.4,-1.6,-1.8,-2,-2.2,-2.4,-2.6,-2.8,-3],"labelExpr":"replace(replace(format(datum.value,'.1f'),'.',','),'\u2212','-')","tickSize":6,"labelPadding":3,"titlePadding":5,"zindex":1}},"text":{"field":"t"},
  "color":{"field":"s","type":"nominal","legend":null,"scale":{"domain":["Mg2+","MgOH2","MgSA","MgE","MgN","Al3+","AlOH3","AlOH4","AlSA","AlSA2","AlE","AlN","Al3OH4","SA0","SA1","SA2","E0","E1","E2","E3","E4","N0","N1","N2","N3"],"range":["#5a34b8","#5a34b8","#5a34b8","#5a34b8","#5a34b8","#ee3b1f","#ee3b1f","#ee3b1f","#ee3b1f","#ee3b1f","#ee3b1f","#ee3b1f","#000000","#000000","#000000","#000000","#000000","#000000","#000000","#000000","#000000","#000000","#000000","#000000","#000000"]}}}},
 {"data":{"name":"labels"},"transform":[{"filter":"datum.p==='c' && indexof(datum.t,'C')>=0"}],"mark":{"type":"text","fontSize":13,"align":"left","baseline":"alphabetic"},"encoding":{"x":{"field":"x","type":"quantitative","scale":{"domain":[1,14],"nice":false,"zero":false},"axis":{"title":"pH","values":[2,4,6,8,10,12,14],"format":"d","tickSize":5,"labelPadding":5,"titlePadding":0,"zindex":1}},"y":{"field":"y","type":"quantitative","scale":{"domain":[-3,-0.6],"nice":false,"zero":false},"axis":{"title":"Log Conc.","values":[-0.6,-0.8,-1,-1.2,-1.4,-1.6,-1.8,-2,-2.2,-2.4,-2.6,-2.8,-3],"labelExpr":"replace(replace(format(datum.value,'.1f'),'.',','),'\u2212','-')","tickSize":6,"labelPadding":3,"titlePadding":5,"zindex":1}},"text":{"field":"t"},
  "color":{"field":"s","type":"nominal","legend":null,"scale":{"domain":["Mg2+","MgOH2","MgSA","MgE","MgN","Al3+","AlOH3","AlOH4","AlSA","AlSA2","AlE","AlN","Al3OH4","SA0","SA1","SA2","E0","E1","E2","E3","E4","N0","N1","N2","N3"],"range":["#5a34b8","#5a34b8","#5a34b8","#5a34b8","#5a34b8","#ee3b1f","#ee3b1f","#ee3b1f","#ee3b1f","#ee3b1f","#ee3b1f","#ee3b1f","#000000","#000000","#000000","#000000","#000000","#000000","#000000","#000000","#000000","#000000","#000000","#000000","#000000"]}}}}
]},
{"width":430,"height":297,"layer":[
 {"data":{"name":"bands"},"transform":[{"filter":"datum.b==='outer'"}],"mark":{"type":"rect","color":"#d9d9d9"},"encoding":{"x":{"field":"x1","type":"quantitative","scale":{"domain":[1,14],"nice":false,"zero":false},"axis":{"title":"pH","values":[2,4,6,8,10,12,14],"format":"d","tickSize":5,"labelPadding":5,"titlePadding":0,"zindex":1}},"x2":{"field":"x2"},"y":{"field":"y1","type":"quantitative","scale":{"domain":[-3,-0.6],"nice":false,"zero":false},"axis":{"title":"Log Conc.","values":[-0.6,-0.8,-1,-1.2,-1.4,-1.6,-1.8,-2,-2.2,-2.4,-2.6,-2.8,-3],"labelExpr":"replace(replace(format(datum.value,'.1f'),'.',','),'\u2212','-')","tickSize":6,"labelPadding":3,"titlePadding":5,"zindex":1}},"y2":{"field":"y2"}}},
 {"data":{"name":"bands"},"transform":[{"filter":"datum.b==='inner'"}],"mark":{"type":"rect","color":"#a3a3a3"},"encoding":{"x":{"field":"x1","type":"quantitative","scale":{"domain":[1,14],"nice":false,"zero":false},"axis":{"title":"pH","values":[2,4,6,8,10,12,14],"format":"d","tickSize":5,"labelPadding":5,"titlePadding":0,"zindex":1}},"x2":{"field":"x2"},"y":{"field":"y1","type":"quantitative","scale":{"domain":[-3,-0.6],"nice":false,"zero":false},"axis":{"title":"Log Conc.","values":[-0.6,-0.8,-1,-1.2,-1.4,-1.6,-1.8,-2,-2.2,-2.4,-2.6,-2.8,-3],"labelExpr":"replace(replace(format(datum.value,'.1f'),'.',','),'\u2212','-')","tickSize":6,"labelPadding":3,"titlePadding":5,"zindex":1}},"y2":{"field":"y2"}}},
 {"data":{"name":"frame"},"mark":{"type":"rect","filled":false,"stroke":"#555555","strokeWidth":1.2},"encoding":{"x":{"field":"x1","type":"quantitative","scale":{"domain":[1,14],"nice":false,"zero":false},"axis":{"title":"pH","values":[2,4,6,8,10,12,14],"format":"d","tickSize":5,"labelPadding":5,"titlePadding":0,"zindex":1}},"x2":{"field":"x2"},"y":{"field":"y1","type":"quantitative","scale":{"domain":[-3,-0.6],"nice":false,"zero":false},"axis":{"title":"Log Conc.","values":[-0.6,-0.8,-1,-1.2,-1.4,-1.6,-1.8,-2,-2.2,-2.4,-2.6,-2.8,-3],"labelExpr":"replace(replace(format(datum.value,'.1f'),'.',','),'\u2212','-')","tickSize":6,"labelPadding":3,"titlePadding":5,"zindex":1}},"y2":{"field":"y2"}}},
 {"data":{"name":"lines"},"transform":[{"filter":"datum.p==='d'"}],"mark":{"type":"line","strokeWidth":2.3},"encoding":{"x":{"field":"x","type":"quantitative","scale":{"domain":[1,14],"nice":false,"zero":false},"axis":{"title":"pH","values":[2,4,6,8,10,12,14],"format":"d","tickSize":5,"labelPadding":5,"titlePadding":0,"zindex":1}},"y":{"field":"y","type":"quantitative","scale":{"domain":[-3,-0.6],"nice":false,"zero":false},"axis":{"title":"Log Conc.","values":[-0.6,-0.8,-1,-1.2,-1.4,-1.6,-1.8,-2,-2.2,-2.4,-2.6,-2.8,-3],"labelExpr":"replace(replace(format(datum.value,'.1f'),'.',','),'\u2212','-')","tickSize":6,"labelPadding":3,"titlePadding":5,"zindex":1}},
  "color":{"field":"s","type":"nominal","legend":null,"scale":{"domain":["Mg2+","MgOH2","MgSA","MgE","MgN","Al3+","AlOH3","AlOH4","AlSA","AlSA2","AlE","AlN","Al3OH4","SA0","SA1","SA2","E0","E1","E2","E3","E4","N0","N1","N2","N3"],"range":["#5a34b8","#5a34b8","#5a34b8","#5a34b8","#5a34b8","#ee3b1f","#ee3b1f","#ee3b1f","#ee3b1f","#ee3b1f","#ee3b1f","#ee3b1f","#000000","#000000","#000000","#000000","#000000","#000000","#000000","#000000","#000000","#000000","#000000","#000000","#000000"]}},
  "strokeDash":{"field":"s","type":"nominal","legend":null,"scale":{"domain":["Mg2+","MgOH2","MgSA","MgE","MgN","Al3+","AlOH3","AlOH4","AlSA","AlSA2","AlE","AlN","Al3OH4","SA0","SA1","SA2","E0","E1","E2","E3","E4","N0","N1","N2","N3"],"range":[[2,1.5],[8,4],[1,0],[1,0],[1,0],[2,1.5],[10,4,3,4],[8,4],[1,0],[14,7],[1,0],[1,0],[1,0],[2,1.5],[8,4],[1,0],[2,1.5],[1,0],[8,4],[10,4,3,4],[1,0],[10,4,3,4],[8,4],[2,1.5],[1,0]]}},
  "order":{"value":null}}},
 {"data":{"name":"tags"},"transform":[{"filter":"datum.p==='d'"}],"mark":{"type":"rect","fill":"white","stroke":"#555555","strokeWidth":1.2},"encoding":{"x":{"field":"x1","type":"quantitative","scale":{"domain":[1,14],"nice":false,"zero":false},"axis":{"title":"pH","values":[2,4,6,8,10,12,14],"format":"d","tickSize":5,"labelPadding":5,"titlePadding":0,"zindex":1}},"x2":{"field":"x2"},"y":{"field":"y1","type":"quantitative","scale":{"domain":[-3,-0.6],"nice":false,"zero":false},"axis":{"title":"Log Conc.","values":[-0.6,-0.8,-1,-1.2,-1.4,-1.6,-1.8,-2,-2.2,-2.4,-2.6,-2.8,-3],"labelExpr":"replace(replace(format(datum.value,'.1f'),'.',','),'\u2212','-')","tickSize":6,"labelPadding":3,"titlePadding":5,"zindex":1}},"y2":{"field":"y2"}}},
 {"data":{"name":"tags"},"transform":[{"filter":"datum.p==='d'"}],"mark":{"type":"text","fontSize":19,"align":"center","baseline":"middle","color":"#000"},"encoding":{"x":{"field":"tx","type":"quantitative","scale":{"domain":[1,14],"nice":false,"zero":false},"axis":{"title":"pH","values":[2,4,6,8,10,12,14],"format":"d","tickSize":5,"labelPadding":5,"titlePadding":0,"zindex":1}},"y":{"field":"ty","type":"quantitative","scale":{"domain":[-3,-0.6],"nice":false,"zero":false},"axis":{"title":"Log Conc.","values":[-0.6,-0.8,-1,-1.2,-1.4,-1.6,-1.8,-2,-2.2,-2.4,-2.6,-2.8,-3],"labelExpr":"replace(replace(format(datum.value,'.1f'),'.',','),'\u2212','-')","tickSize":6,"labelPadding":3,"titlePadding":5,"zindex":1}},"text":{"field":"t"}}},
 {"data":{"name":"corners"},"transform":[{"filter":"datum.p==='d'"}],"mark":{"type":"rect","fill":"white","stroke":"#555555","strokeWidth":1.2},"encoding":{"x":{"field":"x1","type":"quantitative","scale":{"domain":[1,14],"nice":false,"zero":false},"axis":{"title":"pH","values":[2,4,6,8,10,12,14],"format":"d","tickSize":5,"labelPadding":5,"titlePadding":0,"zindex":1}},"x2":{"field":"x2"},"y":{"field":"y1","type":"quantitative","scale":{"domain":[-3,-0.6],"nice":false,"zero":false},"axis":{"title":"Log Conc.","values":[-0.6,-0.8,-1,-1.2,-1.4,-1.6,-1.8,-2,-2.2,-2.4,-2.6,-2.8,-3],"labelExpr":"replace(replace(format(datum.value,'.1f'),'.',','),'\u2212','-')","tickSize":6,"labelPadding":3,"titlePadding":5,"zindex":1}},"y2":{"field":"y2"}}},
 {"data":{"name":"corners"},"transform":[{"filter":"datum.p==='d'"}],"mark":{"type":"text","fontSize":17,"align":"center","baseline":"middle","color":"#000"},"encoding":{"x":{"field":"tx","type":"quantitative","scale":{"domain":[1,14],"nice":false,"zero":false},"axis":{"title":"pH","values":[2,4,6,8,10,12,14],"format":"d","tickSize":5,"labelPadding":5,"titlePadding":0,"zindex":1}},"y":{"field":"ty","type":"quantitative","scale":{"domain":[-3,-0.6],"nice":false,"zero":false},"axis":{"title":"Log Conc.","values":[-0.6,-0.8,-1,-1.2,-1.4,-1.6,-1.8,-2,-2.2,-2.4,-2.6,-2.8,-3],"labelExpr":"replace(replace(format(datum.value,'.1f'),'.',','),'\u2212','-')","tickSize":6,"labelPadding":3,"titlePadding":5,"zindex":1}},"text":{"field":"t"}}},
 {"data":{"name":"labels"},"transform":[{"filter":"datum.p==='d' && indexof(datum.t,'C')<0"}],"mark":{"type":"text","fontSize":14.5,"align":"left","baseline":"alphabetic"},"encoding":{"x":{"field":"x","type":"quantitative","scale":{"domain":[1,14],"nice":false,"zero":false},"axis":{"title":"pH","values":[2,4,6,8,10,12,14],"format":"d","tickSize":5,"labelPadding":5,"titlePadding":0,"zindex":1}},"y":{"field":"y","type":"quantitative","scale":{"domain":[-3,-0.6],"nice":false,"zero":false},"axis":{"title":"Log Conc.","values":[-0.6,-0.8,-1,-1.2,-1.4,-1.6,-1.8,-2,-2.2,-2.4,-2.6,-2.8,-3],"labelExpr":"replace(replace(format(datum.value,'.1f'),'.',','),'\u2212','-')","tickSize":6,"labelPadding":3,"titlePadding":5,"zindex":1}},"text":{"field":"t"},
  "color":{"field":"s","type":"nominal","legend":null,"scale":{"domain":["Mg2+","MgOH2","MgSA","MgE","MgN","Al3+","AlOH3","AlOH4","AlSA","AlSA2","AlE","AlN","Al3OH4","SA0","SA1","SA2","E0","E1","E2","E3","E4","N0","N1","N2","N3"],"range":["#5a34b8","#5a34b8","#5a34b8","#5a34b8","#5a34b8","#ee3b1f","#ee3b1f","#ee3b1f","#ee3b1f","#ee3b1f","#ee3b1f","#ee3b1f","#000000","#000000","#000000","#000000","#000000","#000000","#000000","#000000","#000000","#000000","#000000","#000000","#000000"]}}}},
 {"data":{"name":"labels"},"transform":[{"filter":"datum.p==='d' && indexof(datum.t,'C')>=0"}],"mark":{"type":"text","fontSize":13,"align":"left","baseline":"alphabetic"},"encoding":{"x":{"field":"x","type":"quantitative","scale":{"domain":[1,14],"nice":false,"zero":false},"axis":{"title":"pH","values":[2,4,6,8,10,12,14],"format":"d","tickSize":5,"labelPadding":5,"titlePadding":0,"zindex":1}},"y":{"field":"y","type":"quantitative","scale":{"domain":[-3,-0.6],"nice":false,"zero":false},"axis":{"title":"Log Conc.","values":[-0.6,-0.8,-1,-1.2,-1.4,-1.6,-1.8,-2,-2.2,-2.4,-2.6,-2.8,-3],"labelExpr":"replace(replace(format(datum.value,'.1f'),'.',','),'\u2212','-')","tickSize":6,"labelPadding":3,"titlePadding":5,"zindex":1}},"text":{"field":"t"},
  "color":{"field":"s","type":"nominal","legend":null,"scale":{"domain":["Mg2+","MgOH2","MgSA","MgE","MgN","Al3+","AlOH3","AlOH4","AlSA","AlSA2","AlE","AlN","Al3OH4","SA0","SA1","SA2","E0","E1","E2","E3","E4","N0","N1","N2","N3"],"range":["#5a34b8","#5a34b8","#5a34b8","#5a34b8","#5a34b8","#ee3b1f","#ee3b1f","#ee3b1f","#ee3b1f","#ee3b1f","#ee3b1f","#ee3b1f","#000000","#000000","#000000","#000000","#000000","#000000","#000000","#000000","#000000","#000000","#000000","#000000","#000000"]}}}}
]}
]
}
